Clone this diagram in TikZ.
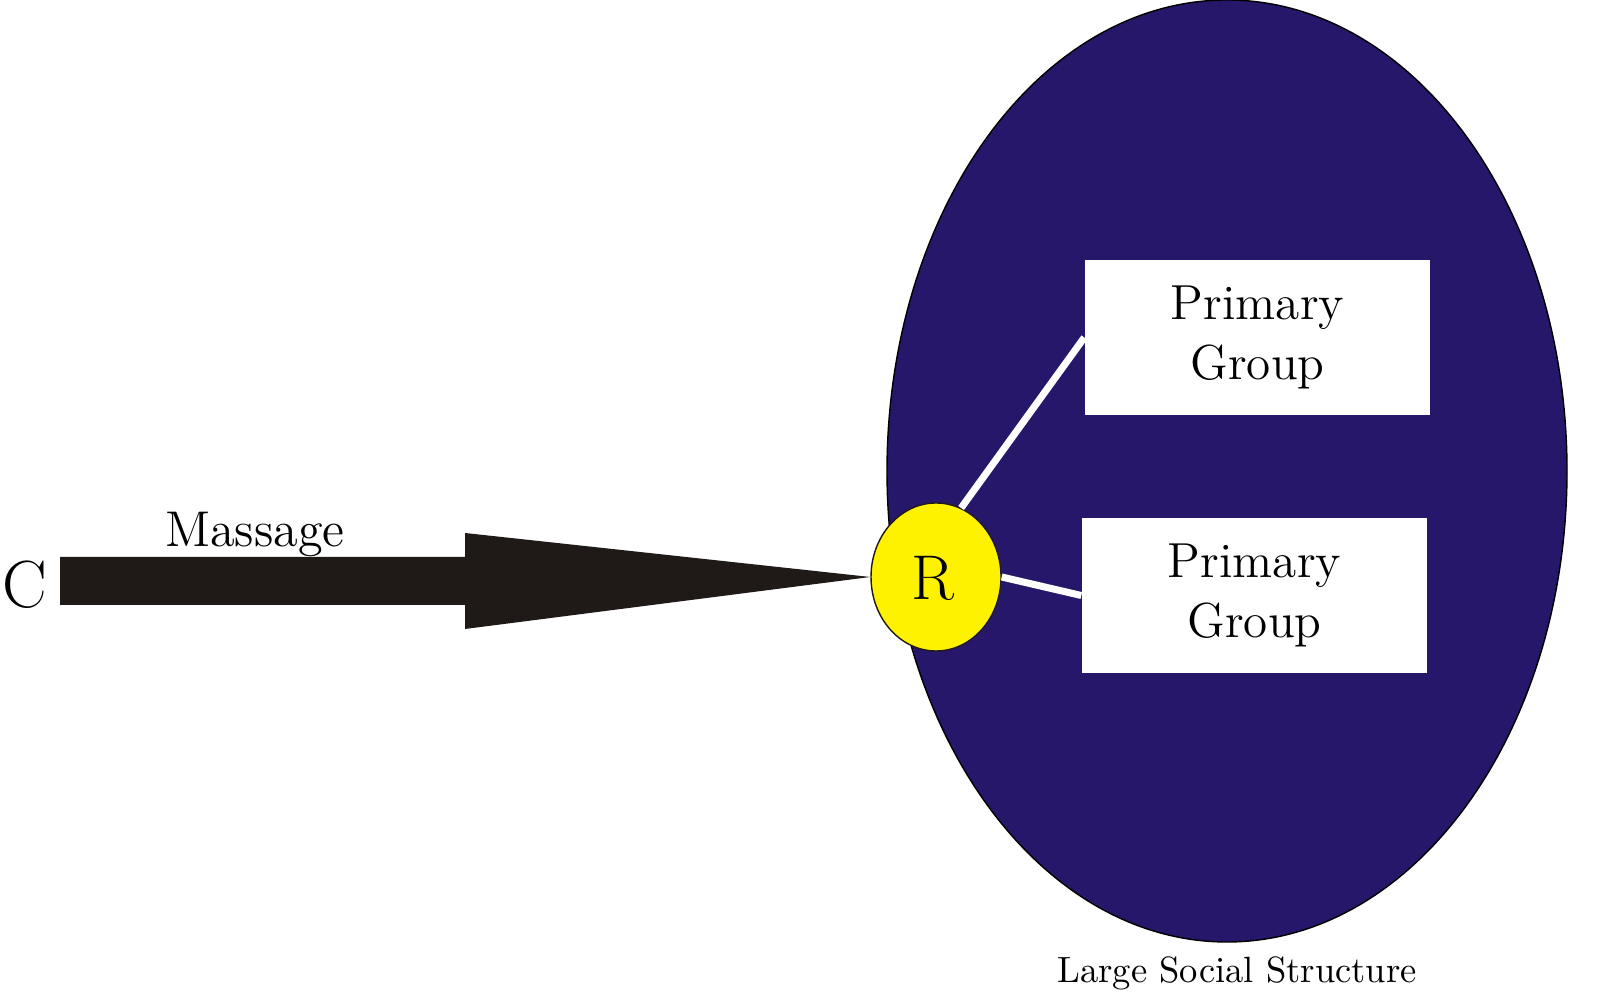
\documentclass[tikz,border=0pt]{standalone}
\usetikzlibrary{shapes.geometric}
\definecolor{navy}{RGB}{39,23,107}
\definecolor{rsun}{RGB}{255,242,0}
\definecolor{inkblack}{RGB}{31,26,23}

\begin{document}
\begin{tikzpicture}[
    group/.style={fill=white, minimum width=3.45cm, minimum height=1.55cm, align=center, font=\fontsize{14}{17}\selectfont},
    tie/.style={white, line width=2pt}
]
    \useasboundingbox (0,0) rectangle (16,10.08);
    \draw[fill=navy, thin] (12.27,5.37) ellipse (3.40 and 4.71);
    \node[group] (pg1) at (12.575,6.705) {Primary\\Group};
    \node[group] (pg2) at (12.545,4.125) {Primary\\Group};
    \node[ellipse, draw=inkblack, thin, fill=rsun, minimum width=1.30cm, minimum height=1.48cm] (R) at (9.36,4.31) {};
    \node[anchor=base, font=\fontsize{18}{20}\selectfont] at (9.33,4.08) {R};
    \draw[tie] (R.70) -- (pg1.west);
    \draw[tie] (R.0) -- (pg2.west);
    \node[anchor=base, font=\fontsize{19}{21}\selectfont] (C) at (0.25,4.00) {C};
    \fill[inkblack] (0.60,4.51) -- (4.65,4.51) -- (4.65,4.75) -- (R.west) -- (4.65,3.79) -- (4.65,4.03) -- (0.60,4.03) -- cycle;
    \node[anchor=base, font=\fontsize{14.3}{17}\selectfont] (msg) at (2.55,4.61) {Massage};
    \node[anchor=base, font=\fontsize{10.4}{12}\selectfont] (lss) at (12.37,0.25) {Large Social Structure};
\end{tikzpicture}
\end{document}
